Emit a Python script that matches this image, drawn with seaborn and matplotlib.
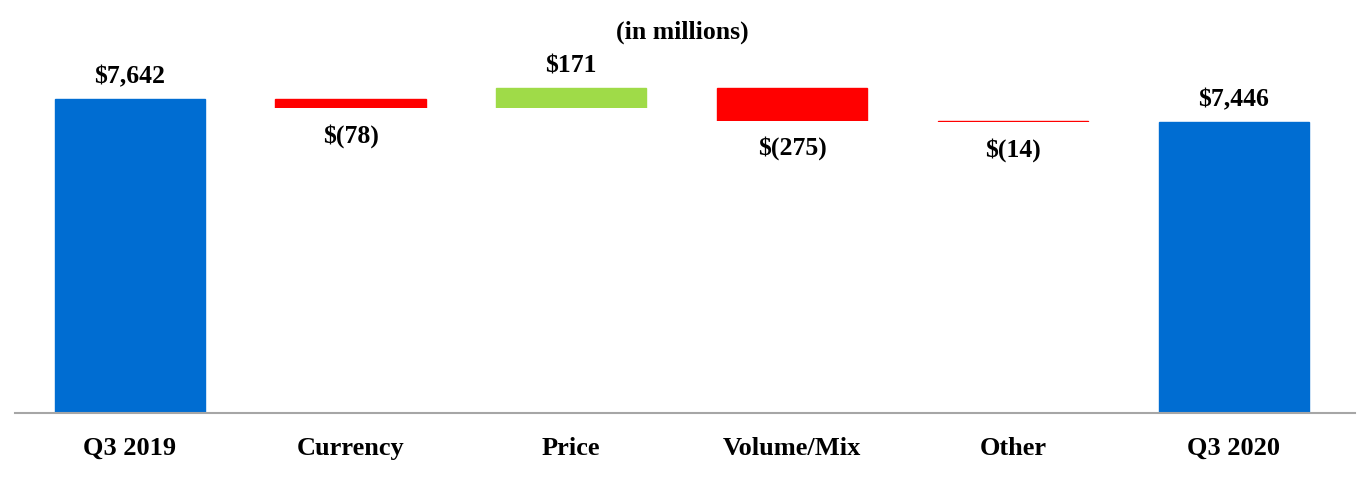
import numpy as np
import pandas as pd
import matplotlib
matplotlib.use("Agg")
import matplotlib.pyplot as plt
import seaborn as sns

# waterfall data (in millions)
categories = ["Q3 2019", "Currency", "Price", "Volume/Mix", "Other", "Q3 2020"]
values = [7642, -78, 171, -275, -14, 7446]
is_total = [True, False, False, False, False, True]
labels = ["$7,642", "$(78)", "$171", "$(275)", "$(14)", "$7,446"]

BLUE = "#006DD2"
RED = "#FF0000"
GREEN = "#9FDB48"

# work out where each floating bar starts and ends
bottoms, tops, colors = [], [], []
running = 0
for v, tot in zip(values, is_total):
    if tot:
        bottoms.append(0)
        tops.append(v)
        colors.append(BLUE)
        running = v
    else:
        bottoms.append(running + min(v, 0))
        tops.append(running + max(v, 0))
        colors.append(GREEN if v > 0 else RED)
        running += v

df = pd.DataFrame({"category": categories, "top": tops, "bottom": bottoms})

sns.set_theme(style="white")
plt.rcParams["font.family"] = ["Liberation Serif", "DejaVu Serif"]
plt.rcParams["text.color"] = "black"
plt.rcParams["xtick.color"] = "black"

fig = plt.figure(figsize=(13.64, 4.8), dpi=100)
ax = fig.add_axes([0.011, 0.1396, 0.9824, 0.777])

# coloured bar up to the top, then a white bar masks everything below the start
sns.barplot(data=df, x="category", y="top", hue="category", order=categories,
            palette=dict(zip(categories, colors)), saturation=1, legend=False,
            width=0.68, linewidth=0, ax=ax)
for p in ax.patches:
    p.set_edgecolor(p.get_facecolor())
    p.set_linewidth(1.0)
sns.barplot(data=df, x="category", y="bottom", order=categories, color="white",
            saturation=1, width=0.72, linewidth=0, ax=ax)

ax.set_ylim(4960, 8148)
ax.set_xlim(-0.52, 5.55)

for i, (v, b, t, lab) in enumerate(zip(values, bottoms, tops, labels)):
    if v >= 0:
        ax.annotate(lab, (i, t), xytext=(0, 16), textcoords="offset points",
                    ha="center", va="center", fontsize=18.5, fontweight="bold")
    else:
        ax.annotate(lab, (i, b), xytext=(0, -20), textcoords="offset points",
                    ha="center", va="center", fontsize=18.5, fontweight="bold")

ax.set_xlabel("")
ax.set_ylabel("")
ax.set_yticks([])
ax.tick_params(axis="x", length=0, pad=17, labelsize=19, labelcolor="black")
for t in ax.get_xticklabels():
    t.set_fontweight("bold")

for side in ["top", "left", "right"]:
    ax.spines[side].set_visible(False)
ax.spines["bottom"].set_color("#A6A6A6")
ax.spines["bottom"].set_linewidth(1.5)
ax.spines["bottom"].set_zorder(5)

fig.text(0.5, 1 - 32 / 480, "(in millions)", ha="center", va="center",
         fontsize=18.5, fontweight="bold")

fig.savefig("out.png", dpi=100)
plt.close(fig)
